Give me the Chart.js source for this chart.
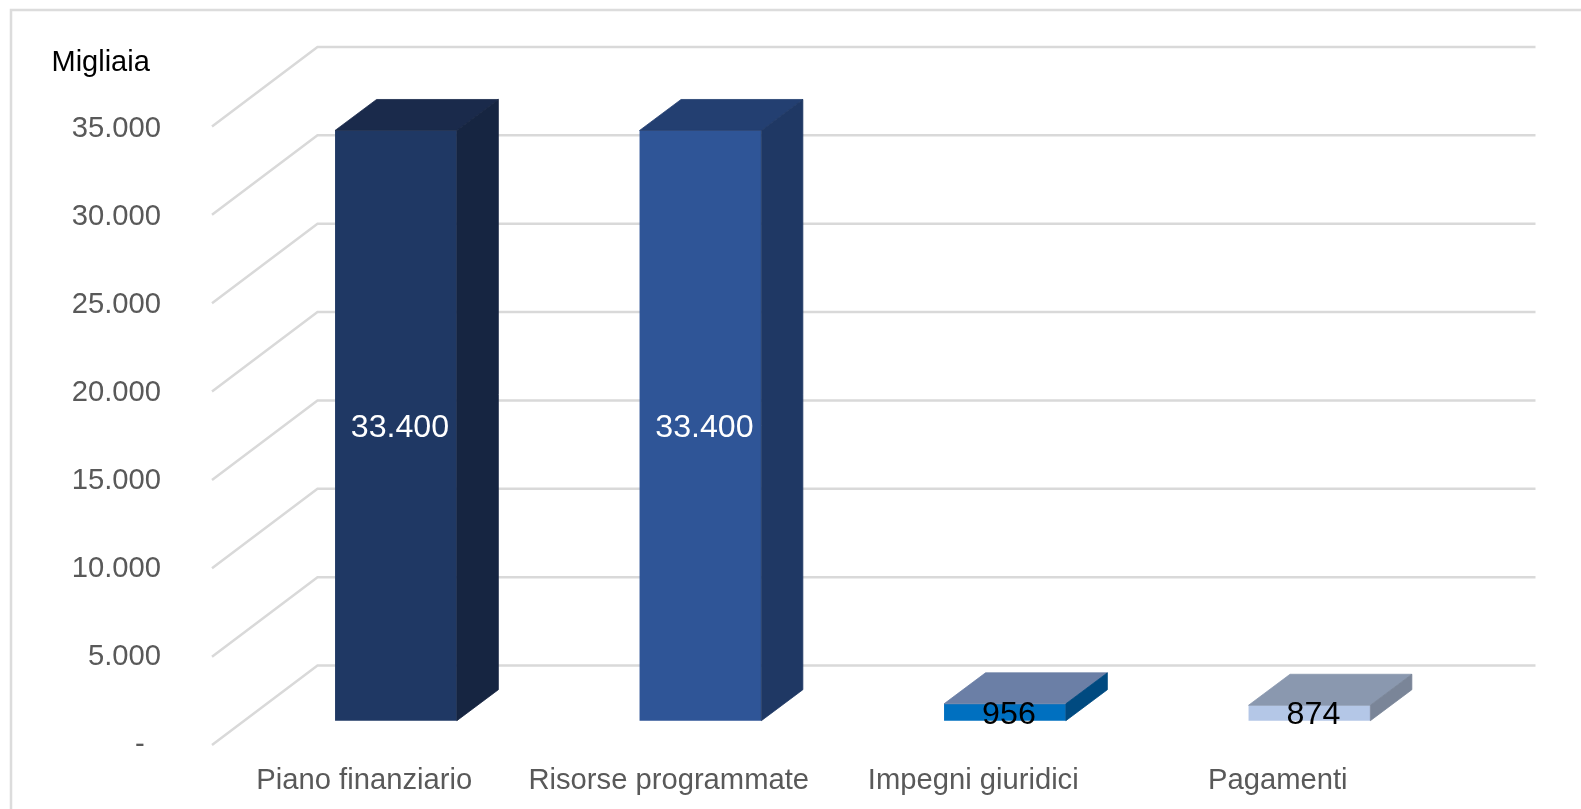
<!DOCTYPE html>
<html lang="it">
<head>
<meta charset="utf-8">
<title>Migliaia</title>
<script src="https://cdn.jsdelivr.net/npm/chart.js@4"></script>
<style>
  html, body { margin: 0; padding: 0; background: #ffffff; overflow: hidden; }
  canvas { display: block; }
</style>
</head>
<body>
<canvas id="chart" width="1581" height="809"></canvas>
<script>
const categories = ["Piano finanziario", "Risorse programmate", "Impegni giuridici", "Pagamenti"];
const values = [33400, 33400, 956, 874];
const tickStep = 5000;
const axisMax = 35000;
const unitLabel = "Migliaia";

const frontColors = ["#1f3864", "#2f5597", "#0070c0", "#b4c7e7"];
const topColors = ["#1a2a4b", "#233f71", "#6b7fa6", "#8a98af"];
const sideColors = ["#162541", "#1f3864", "#004a80", "#7a8598"];
const labelColors = ["#ffffff", "#ffffff", "#000000", "#000000"];

const fontFamily = '"Liberation Sans", Arial, sans-serif';
const gridColor = "#d9d9d9";
const tickColor = "#595959";
const labelSize = 29.2;

// fake 3D: the wall sits behind the axis plane, the bars stand in between
const wall = { dx: 105.5, dy: -79.5 };
const barShift = { dx: 31.7, dy: -24.3 };
const barDepth = { dx: 41.5, dy: -31 };

function formatNumber(value) {
  return value.toLocaleString("it-IT", { useGrouping: "always" });
}

function polygon(ctx, points, color) {
  ctx.fillStyle = color;
  ctx.strokeStyle = color;
  ctx.lineWidth = 0.8; // closes the light seam between faces
  ctx.beginPath();
  points.forEach(([x, y], i) => (i ? ctx.lineTo(x, y) : ctx.moveTo(x, y)));
  ctx.closePath();
  ctx.fill();
  ctx.stroke();
}

const wallPlugin = {
  id: "wall",
  beforeDatasetsDraw(chart) {
    const { ctx, chartArea, scales } = chart;
    ctx.save();

    // frame of the picture, only left and top edges are visible
    ctx.strokeStyle = "#dcdcdc";
    ctx.lineWidth = 2.5;
    ctx.beginPath();
    ctx.moveTo(11, 809);
    ctx.lineTo(11, 10);
    ctx.lineTo(1581, 10);
    ctx.stroke();

    ctx.strokeStyle = gridColor;
    ctx.lineWidth = 2.5;
    scales.y.ticks.forEach((tick) => {
      const y = scales.y.getPixelForValue(tick.value);
      ctx.beginPath();
      ctx.moveTo(chartArea.left, y);
      ctx.lineTo(chartArea.left + wall.dx, y + wall.dy);
      ctx.lineTo(chartArea.right + wall.dx, y + wall.dy);
      ctx.stroke();
    });

    // y labels drift slightly against their ticks, so they are placed here
    ctx.fillStyle = tickColor;
    ctx.font = `${labelSize}px ${fontFamily}`;
    ctx.textAlign = "right";
    ctx.textBaseline = "middle";
    scales.y.ticks.forEach((tick) => {
      const y = scales.y.getPixelForValue(tick.value) + (2.5 * tick.value) / axisMax;
      ctx.fillText(tick.value === 0 ? "-  " : formatNumber(tick.value), 161, y);
    });

    ctx.fillStyle = "#000000";
    ctx.textAlign = "left";
    ctx.textBaseline = "alphabetic";
    ctx.font = `29px ${fontFamily}`;
    ctx.fillText(unitLabel, 51.5, 71);
    ctx.restore();

    ctx.save();
    ctx.translate(barShift.dx, barShift.dy);
  },
  afterDatasetsDraw(chart) {
    const { ctx } = chart;
    const bars = chart.getDatasetMeta(0).data;
    bars.forEach((bar, i) => {
      const left = bar.x - bar.width / 2;
      const right = bar.x + bar.width / 2;
      const d = barDepth;
      polygon(ctx, [[left, bar.y], [left + d.dx, bar.y + d.dy], [right + d.dx, bar.y + d.dy], [right, bar.y]], topColors[i]);
      polygon(ctx, [[right, bar.y], [right + d.dx, bar.y + d.dy], [right + d.dx, bar.base + d.dy], [right, bar.base]], sideColors[i]);
    });

    ctx.textAlign = "center";
    ctx.textBaseline = "middle";
    ctx.font = `32.2px ${fontFamily}`;
    bars.forEach((bar, i) => {
      ctx.fillStyle = labelColors[i];
      ctx.fillText(formatNumber(values[i]), bar.x + 4, (bar.y + bar.base) / 2 + 2.5);
    });
    ctx.restore();
  },
};

new Chart(document.getElementById("chart"), {
  type: "bar",
  data: {
    labels: categories,
    datasets: [
      {
        data: values,
        backgroundColor: frontColors,
        borderWidth: 0,
        categoryPercentage: 1,
        barPercentage: 0.4,
        clip: false,
      },
    ],
  },
  options: {
    responsive: false,
    animation: false,
    layout: { padding: { left: 0, top: 126.5, right: 151, bottom: 0 } },
    plugins: {
      legend: { display: false },
      title: { display: false },
      tooltip: { enabled: false },
    },
    scales: {
      x: {
        grid: { display: false },
        border: { display: false },
        ticks: {
          color: tickColor,
          font: { family: fontFamily, size: labelSize },
          maxRotation: 0,
          padding: 10,
        },
        afterFit(scale) {
          scale.height = 64;
        },
      },
      y: {
        min: 0,
        max: axisMax,
        grid: { display: false },
        border: { display: false },
        ticks: {
          display: false,
          stepSize: tickStep,
        },
        afterFit(scale) {
          scale.width = 212;
        },
      },
    },
  },
  plugins: [wallPlugin],
});
</script>
</body>
</html>
